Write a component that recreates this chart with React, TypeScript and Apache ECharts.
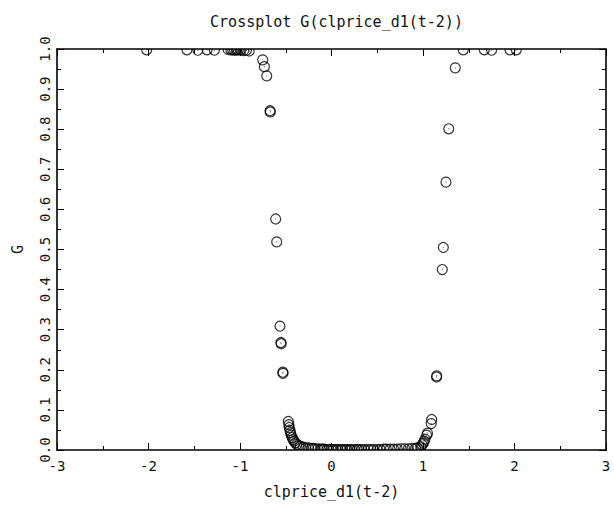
import React, { useEffect, useRef } from "react";
import * as echarts from "echarts";

const title = "Crossplot G(clprice_d1(t-2))";
const xName = "clprice_d1(t-2)";
const yName = "G";

// clprice_d1(t-2) values
const xVals: number[] = [
  -2.02, -1.58, -1.46, -1.36, -1.28, -1.13, -1.1, -1.08, -1.06, -1.04, -1.02, -0.99, -0.96, -0.93, -0.9,
  -0.752, -0.734, -0.708, -0.672, -0.668, -0.61, -0.599, -0.563, -0.553, -0.55, -0.532, -0.53,
  -0.472, -0.466, -0.462, -0.455, -0.448, -0.44, -0.43, -0.42, -0.41, -0.395, -0.38, -0.36, -0.34, -0.31, -0.28,
  -0.25, -0.22, -0.2, -0.18, -0.15, -0.12, -0.1, -0.08, -0.05, -0.03, 0, 0.02, 0.05, 0.07, 0.1, 0.12, 0.15,
  0.17, 0.2, 0.22, 0.25, 0.28, 0.3, 0.33, 0.36, 0.4, 0.43, 0.46, 0.5, 0.53, 0.57, 0.6, 0.64, 0.68, 0.72,
  0.76, 0.8, 0.84, 0.88, 0.92,
  0.94, 0.975, 0.99, 1.003, 1.012, 1.022, 1.04, 1.05, 1.09, 1.095,
  1.148, 1.15, 1.211, 1.222, 1.251, 1.281, 1.353, 1.44, 1.67, 1.75, 1.95, 2.02,
];

// G values
const gVals: number[] = [
  0.998, 0.998, 0.997, 0.998, 0.997, 0.999, 0.998, 0.998, 0.997, 0.998, 0.997, 0.998, 0.996, 0.997, 0.995,
  0.973, 0.956, 0.933, 0.846, 0.843, 0.576, 0.519, 0.309, 0.268, 0.265, 0.194, 0.191,
  0.071, 0.063, 0.056, 0.049, 0.043, 0.037, 0.031, 0.026, 0.022, 0.018, 0.014, 0.011, 0.009, 0.007, 0.005,
  0.005, 0.004, 0.004, 0.003, 0.003, 0.002, 0.002, 0.002, 0.001, 0.001, 0.001, 0.001, 0.001, 0.001, 0.001, 0.001, 0.001,
  0.001, 0.001, 0.001, 0.001, 0.001, 0.001, 0.001, 0.001, 0.001, 0.001, 0.001, 0.001, 0.001, 0.002, 0.002, 0.002, 0.002, 0.002,
  0.003, 0.003, 0.003, 0.004, 0.004,
  0.005, 0.008, 0.013, 0.017, 0.022, 0.027, 0.037, 0.042, 0.066, 0.076,
  0.182, 0.185, 0.45, 0.505, 0.668, 0.801, 0.953, 0.998, 0.998, 0.997, 0.998, 0.998,
];

const xTicks = [-3, -2, -1, 0, 1, 2, 3];

export default function App() {
  const ref = useRef<HTMLDivElement>(null);
  useEffect(() => {
    document.body.style.margin = "0";
    if (!ref.current) return;
    const chart = echarts.init(ref.current, undefined, { renderer: "svg" });
    const font = "DejaVu Sans Mono";
    const data = xVals.map((x, i) => [x, gVals[i]]);
    const gridL = 57, gridR = 8, gridT = 49, gridB = 57;
    const W = 614, H = 507;
    const lineStyle = { color: "#000", width: 1.6 };
    const tickCommon = { show: true, inside: true, length: 7, lineStyle: { color: "#000", width: 1 } };
    const minor = { show: true, splitNumber: 2, length: 4, lineStyle: { color: "#000", width: 1 } };
    chart.setOption({
      animation: false,
      backgroundColor: "#fff",
      title: {
        text: title,
        left: (gridL + W - gridR) / 2,
        top: 9,
        textAlign: "center",
        textStyle: { fontFamily: font, fontSize: 15, fontWeight: "normal", color: "#111" },
      },
      grid: { left: gridL, right: gridR, top: gridT, bottom: gridB, containLabel: false },
      xAxis: [
        {
          type: "value",
          position: "bottom",
          min: -3,
          max: 3,
          interval: 1,
          z: 60,
          name: xName,
          nameLocation: "middle",
          nameGap: 34,
          nameTextStyle: { fontFamily: font, fontSize: 15, color: "#111" },
          axisLine: { show: true, onZero: false, lineStyle },
          axisTick: tickCommon,
          minorTick: minor,
          splitLine: { show: false },
          axisLabel: {
            show: true,
            margin: 9,
            fontFamily: font,
            fontSize: 14,
            color: "#111",
            formatter: (v: number) => (xTicks.includes(v) ? String(v) : ""),
          },
        },
        {
          type: "value",
          position: "top",
          min: -3,
          max: 3,
          interval: 1,
          z: 60,
          axisLine: { show: true, onZero: false, lineStyle },
          axisTick: tickCommon,
          minorTick: minor,
          splitLine: { show: false },
          axisLabel: { show: false },
        },
      ],
      yAxis: [
        {
          type: "value",
          position: "left",
          min: 0,
          max: 1,
          interval: 0.1,
          z: 60,
          name: yName,
          nameLocation: "middle",
          nameGap: 32,
          nameRotate: 90,
          nameTextStyle: { fontFamily: font, fontSize: 15, color: "#111" },
          axisLine: { show: true, onZero: false, lineStyle },
          axisTick: tickCommon,
          minorTick: minor,
          splitLine: { show: false },
          axisLabel: {
            show: true,
            rotate: 90,
            margin: 5,
            fontFamily: font,
            fontSize: 14,
            color: "#111",
            formatter: (v: number) => v.toFixed(1),
          },
        },
        {
          type: "value",
          position: "right",
          min: 0,
          max: 1,
          interval: 0.1,
          z: 60,
          axisLine: { show: true, onZero: false, lineStyle },
          axisTick: tickCommon,
          minorTick: minor,
          splitLine: { show: false },
          axisLabel: { show: false },
        },
      ],
      graphic: [
        { type: "rect", z: 50, shape: { x: gridL - 6, y: 34, width: W - gridL - gridR + 12, height: gridT - 34 }, style: { fill: "#fff" } },
        { type: "rect", z: 50, shape: { x: gridL - 6, y: H - gridB, width: W - gridL - gridR + 12, height: 8 }, style: { fill: "#fff" } },
      ],
      series: [
        {
          type: "scatter",
          xAxisIndex: 0,
          yAxisIndex: 0,
          data,
          symbol: "circle",
          symbolSize: 10,
          clip: false,
          itemStyle: { color: "rgba(0,0,0,0)", borderColor: "#000", borderWidth: 1.2 },
          emphasis: { disabled: true },
        },
        {
          type: "scatter",
          xAxisIndex: 0,
          yAxisIndex: 0,
          data,
          symbol: "circle",
          symbolSize: 1.2,
          clip: false,
          itemStyle: { color: "#555" },
          emphasis: { disabled: true },
        },
      ],
    });
    return () => chart.dispose();
  }, []);
  return <div ref={ref} style={{ width: 614, height: 507 }} />;
}
